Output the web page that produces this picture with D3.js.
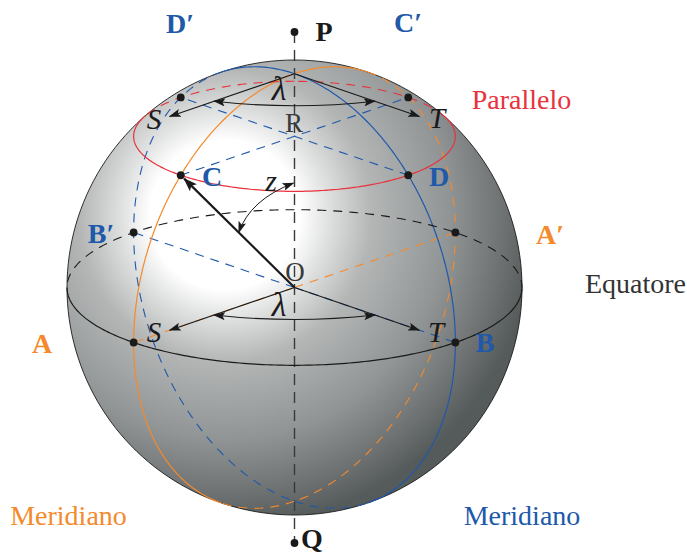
<!DOCTYPE html>
<html>
<head>
  <title>Sfera celeste</title>
  <script src="https://d3js.org/d3.v7.min.js"></script>
  <style>
    html, body { margin: 0; padding: 0; background: #fff; }
    svg { display: block; }
    text { font-family: "Liberation Serif", serif; }
  </style>
</head>
<body>
<svg id="canvas" width="687" height="554"></svg>
<script>
  // meridians and parallels, in degrees on the sphere
  const tilt = 20;
  const orangeMeridian = -45;
  const blueMeridian = 45;
  const parallelLat = 45;
  const equatorLat = 0;

  // named points [lon, lat]
  const pointA = [-45, 0], pointB = [45, 0], pointAp = [135, 0], pointBp = [-135, 0];
  const pointC = [-45, 45], pointD = [45, 45], pointCp = [135, 45], pointDp = [-135, 45];
  const pole = [0, 90];

  const arrowShare = 0.776;   // length of the S and T arrows, share of the radius
  const arcShare = 0.5;       // where the lambda arcs touch the arrows
  const thickShare = 0.97;

  const blue = '#2059aa', orange = '#f58a2c', red = '#e8323c', ink = '#1a1a1a';

  const svg = d3.select('#canvas');
  const cx = 294.5, cy = 287.5, radius = 227.5;

  const projection = d3.geoOrthographic()
    .scale(radius)
    .translate([cx, cy])
    .rotate([0, -tilt, 0]);

  const centre = [0, tilt];
  const line = d3.line();

  // gradient and marker
  const defs = svg.append('defs');
  const grad = defs.append('radialGradient')
    .attr('id', 'shade')
    .attr('gradientUnits', 'userSpaceOnUse')
    .attr('cx', 225).attr('cy', 215).attr('r', 312);
  [[0, '#ffffff'], [0.24, '#ffffff'], [0.33, '#e0e1e1'], [0.47, '#b4b6b6'], [0.72, '#909494'], [0.9, '#6c7070'], [1, '#555a5a']].forEach(function(s) {
    grad.append('stop').attr('offset', s[0]).attr('stop-color', s[1]);
  });

  defs.append('marker')
    .attr('id', 'head')
    .attr('viewBox', '0 0 12 8')
    .attr('refX', 11).attr('refY', 4)
    .attr('markerWidth', 12).attr('markerHeight', 8)
    .attr('markerUnits', 'userSpaceOnUse')
    .attr('orient', 'auto-start-reverse')
    .append('path')
    .attr('d', 'M0,0 L12,4 L0,8 L2.5,4 Z')
    .attr('fill', ink);

  defs.append('marker')
    .attr('id', 'headBig')
    .attr('viewBox', '0 0 14 10')
    .attr('refX', 13).attr('refY', 5)
    .attr('markerWidth', 14).attr('markerHeight', 10)
    .attr('markerUnits', 'userSpaceOnUse')
    .attr('orient', 'auto')
    .append('path')
    .attr('d', 'M0,0 L14,5 L0,10 L3,5 Z')
    .attr('fill', ink);

  // sphere body
  svg.append('path')
    .datum({type: 'Sphere'})
    .attr('d', d3.geoPath(projection))
    .attr('fill', 'url(#shade)')
    .attr('stroke', ink)
    .attr('stroke-width', 0.9);

  function visible(p) {
    return d3.geoDistance(p, centre) < Math.PI / 2;
  }

  // splits a run of points on the sphere in front and back pieces
  function drawCircle(points, color) {
    let runs = [], cur = [], curVis = null;
    points.forEach(function(p) {
      const v = visible(p);
      if (v !== curVis && cur.length) {
        runs.push({vis: curVis, pts: cur});
        cur = [cur[cur.length - 1]];
      }
      curVis = v;
      cur.push(p);
    });
    runs.push({vis: curVis, pts: cur});
    runs.forEach(function(r) {
      svg.append('path')
        .attr('d', line(r.pts.map(projection)))
        .attr('fill', 'none')
        .attr('stroke', color)
        .attr('stroke-width', r.vis ? 1.2 : 1.1)
        .attr('stroke-dasharray', r.vis ? null : '9,7');
    });
  }

  function parallel(lat) {
    return d3.range(-180, 180.5, 1).map(function(lon) { return [lon, lat]; });
  }

  // full great circle through the poles at this longitude
  function meridian(lon) {
    const a = d3.range(-90, 90.5, 1).map(function(lat) { return [lon, lat]; });
    const b = d3.range(90, -90.5, -1).map(function(lat) { return [lon + 180, lat]; });
    return a.concat(b);
  }

  // chords behind the front surface
  function dashed(a, b, color) {
    svg.append('path')
      .attr('d', line([a, b]))
      .attr('fill', 'none')
      .attr('stroke', color)
      .attr('stroke-width', 1.1)
      .attr('stroke-dasharray', '9,7');
  }

  const O = [cx, cy];
  const P = projection(pole);

  // polar axis
  svg.append('line')
    .attr('x1', cx).attr('x2', cx).attr('y1', 32).attr('y2', 543)
    .attr('stroke', '#3a3a3a').attr('stroke-width', 1.4)
    .attr('stroke-dasharray', '11,7');

  dashed(projection(pointC), projection(pointCp), blue);
  dashed(projection(pointD), projection(pointDp), blue);
  dashed(O, projection(pointBp), blue);
  dashed(O, projection(pointB), blue);
  dashed(O, projection(pointAp), orange);
  dashed(O, projection(pointA), orange);

  drawCircle(meridian(orangeMeridian), orange);
  drawCircle(meridian(blueMeridian), blue);
  drawCircle(parallel(parallelLat), red);
  drawCircle(parallel(equatorLat), ink);

  // S and T arrows, same pair from the centre and from the pole
  function arrowPair(from) {
    [pointA, pointB].forEach(function(t) {
      const q = projection(t);
      const end = [from[0] + (q[0] - O[0]) * arrowShare, from[1] + (q[1] - O[1]) * arrowShare];
      svg.append('line')
        .attr('x1', from[0]).attr('y1', from[1]).attr('x2', end[0]).attr('y2', end[1])
        .attr('stroke', ink).attr('stroke-width', 1.1)
        .attr('marker-end', 'url(#head)');
    });
    const a = projection(pointA), b = projection(pointB);
    const s = [from[0] + (a[0] - O[0]) * arcShare, from[1] + (a[1] - O[1]) * arcShare];
    const e = [from[0] + (b[0] - O[0]) * arcShare, from[1] + (b[1] - O[1]) * arcShare];
    const path = d3.path();
    path.moveTo(s[0], s[1]);
    path.quadraticCurveTo(from[0], s[1] + 9, e[0], e[1]);
    svg.append('path')
      .attr('d', path.toString())
      .attr('fill', 'none')
      .attr('stroke', ink).attr('stroke-width', 1.1)
      .attr('marker-start', 'url(#head)')
      .attr('marker-end', 'url(#head)');
  }
  arrowPair(O);
  arrowPair(P);

  // thick arrow from O to C
  const C = projection(pointC);
  svg.append('line')
    .attr('x1', O[0]).attr('y1', O[1])
    .attr('x2', O[0] + (C[0] - O[0]) * thickShare)
    .attr('y2', O[1] + (C[1] - O[1]) * thickShare)
    .attr('stroke', ink).attr('stroke-width', 2.2)
    .attr('marker-end', 'url(#headBig)');

  // z arc between the axis and the thick arrow
  const zA = [O[0] + (C[0] - O[0]) * 0.49, O[1] + (C[1] - O[1]) * 0.49];
  const zB = [cx - 1, 183];
  const zPath = d3.path();
  zPath.moveTo(zA[0], zA[1]);
  zPath.quadraticCurveTo(250, 200, zB[0], zB[1]);
  svg.append('path')
    .attr('d', zPath.toString())
    .attr('fill', 'none')
    .attr('stroke', ink).attr('stroke-width', 1)
    .attr('marker-start', 'url(#head)')
    .attr('marker-end', 'url(#head)');

  // dots
  const dots = [pointA, pointB, pointAp, pointBp, pointC, pointD, pointCp, pointDp].map(projection);
  dots.push([cx, 32], [cx, 543]);
  svg.selectAll('circle.dot')
    .data(dots)
    .enter()
    .append('circle')
    .attr('class', 'dot')
    .attr('cx', function(d) { return d[0]; })
    .attr('cy', function(d) { return d[1]; })
    .attr('r', 3.9)
    .attr('fill', ink);

  // labels
  const labels = [
    {t: 'P', x: 324, y: 41, c: ink, s: 28, w: 'bold'},
    {t: 'Q', x: 312, y: 547.5, c: ink, s: 28, w: 'bold'},
    {t: 'D′', x: 180, y: 33, c: blue, s: 28, w: 'bold'},
    {t: 'C′', x: 408, y: 32, c: blue, s: 28, w: 'bold'},
    {t: 'C', x: 212, y: 186, c: blue, s: 28, w: 'bold'},
    {t: 'D', x: 439, y: 186, c: blue, s: 28, w: 'bold'},
    {t: 'B′', x: 101, y: 243, c: blue, s: 28, w: 'bold'},
    {t: 'A′', x: 550, y: 244, c: orange, s: 28, w: 'bold'},
    {t: 'A', x: 42, y: 353, c: orange, s: 28, w: 'bold'},
    {t: 'B', x: 485, y: 352, c: blue, s: 28, w: 'bold'},
    {t: 'S', x: 154, y: 129, c: ink, s: 29, st: 'italic'},
    {t: 'T', x: 437, y: 128, c: ink, s: 29, st: 'italic'},
    {t: 'S', x: 154, y: 342, c: ink, s: 29, st: 'italic'},
    {t: 'T', x: 436, y: 342, c: ink, s: 29, st: 'italic'},
    {t: 'λ', x: 279, y: 100, c: ink, s: 34, st: 'italic'},
    {t: 'λ', x: 279, y: 316, c: ink, s: 34, st: 'italic'},
    {t: 'z', x: 271, y: 191, c: ink, s: 30, st: 'italic'},
    {t: 'R', x: 294, y: 132, c: '#3a3a3a', s: 27},
    {t: 'O', x: 295, y: 281, c: '#3a3a3a', s: 27},
    {t: 'Parallelo', x: 521.5, y: 109, c: red, s: 28},
    {t: 'Equatore', x: 635.5, y: 293, c: '#333', s: 28},
    {t: 'Meridiano', x: 68.5, y: 525, c: orange, s: 28},
    {t: 'Meridiano', x: 522, y: 525, c: blue, s: 28}
  ];

  svg.selectAll('text.lab')
    .data(labels)
    .enter()
    .append('text')
    .attr('class', 'lab')
    .attr('x', function(d) { return d.x; })
    .attr('y', function(d) { return d.y; })
    .attr('text-anchor', 'middle')
    .attr('fill', function(d) { return d.c; })
    .attr('font-size', function(d) { return d.s; })
    .attr('font-weight', function(d) { return d.w || 'normal'; })
    .attr('font-style', function(d) { return d.st || 'normal'; })
    .text(function(d) { return d.t; });
</script>
</body>
</html>
